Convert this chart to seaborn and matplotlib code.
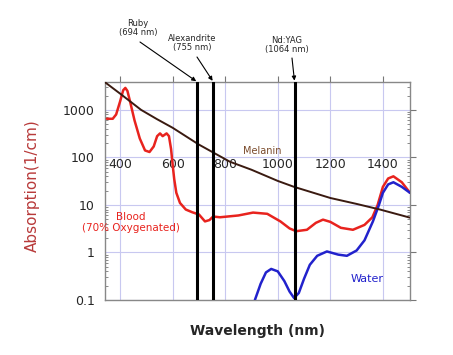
import numpy as np
import pandas as pd
import matplotlib
matplotlib.use("Agg")
import matplotlib.pyplot as plt
import matplotlib.ticker as mticker
import seaborn as sns

# curve data (wavelength in nm, absorption in 1/cm)
melanin_nm = [343, 400, 480, 540, 600, 700, 818, 900, 1000, 1062, 1200, 1300, 1389, 1503]
melanin_abs = [3800, 2200, 1000, 640, 420, 186, 81, 55, 32, 24, 14, 10.5, 8, 5.4]

blood_nm = [350, 372, 385, 400, 412, 420, 428, 438, 455, 475, 495, 512, 528, 541,
            552, 562, 577, 586, 594, 600, 606, 614, 628, 650, 675, 700, 723, 740,
            754, 780, 850, 906, 960, 1010, 1045, 1070, 1111, 1145, 1172, 1200,
            1240, 1286, 1330, 1360, 1380, 1400, 1420, 1440, 1472, 1503]
blood_abs = [650, 650, 800, 1500, 2600, 2900, 2500, 1500, 600, 250, 140, 130, 170, 280,
             320, 280, 320, 280, 150, 70, 35, 18, 11, 8.0, 7.0, 6.3, 4.5, 4.8,
             5.7, 5.5, 6.0, 6.9, 6.5, 4.5, 3.2, 2.8, 3.0, 4.2, 4.9, 4.4,
             3.3, 3.0, 3.8, 5.5, 10, 24, 36, 40, 30, 18]

water_nm = [913, 935, 955, 975, 1000, 1025, 1045, 1062, 1080, 1100, 1122, 1150,
            1187, 1230, 1263, 1300, 1330, 1362, 1385, 1400, 1420, 1440, 1472, 1503]
water_abs = [0.1, 0.22, 0.38, 0.45, 0.4, 0.25, 0.15, 0.11, 0.14, 0.28, 0.55, 0.85,
             1.05, 0.9, 0.85, 1.1, 1.8, 4.5, 10, 18, 27, 30, 24, 18]

laser_names = ["Ruby\n(694 nm)", "Alexandrite\n(755 nm)", "Nd:YAG\n(1064 nm)"]
laser_nm = [694, 755, 1064]

x_ticks = [400, 600, 800, 1000, 1200, 1400]
y_ticks = [0.1, 1, 10, 100, 1000]
y_labels = ["0.1", "1", "10", "100", "1000"]

sns.set_style("white")
plt.rcParams['font.family'] = ['DejaVu Sans']

fig = plt.figure(figsize=(4.53, 3.55), dpi=100)
ax = fig.add_axes([0.232, 0.155, 0.673, 0.614])

df_mel = pd.DataFrame({"nm": melanin_nm, "abs": melanin_abs})
df_blood = pd.DataFrame({"nm": blood_nm, "abs": blood_abs})
df_water = pd.DataFrame({"nm": water_nm, "abs": water_abs})

sns.lineplot(data=df_blood, x="nm", y="abs", ax=ax, color="#e8231e", linewidth=1.8, zorder=3)
sns.lineplot(data=df_water, x="nm", y="abs", ax=ax, color="#2222cc", linewidth=1.8, zorder=3)
sns.lineplot(data=df_mel, x="nm", y="abs", ax=ax, color="#3a1a10", linewidth=1.4, zorder=4)

ax.set_yscale("log")
ax.set_xlim(343, 1503)
ax.set_ylim(0.1, 3860)

ax.set_yticks(y_ticks)
ax.set_yticklabels(y_labels, fontsize=9)
ax.yaxis.set_minor_locator(mticker.LogLocator(base=10, subs=np.arange(2, 10)))
ax.yaxis.set_minor_formatter(mticker.NullFormatter())
ax.set_xticks(x_ticks)
ax.set_xticklabels([])
ax.tick_params(axis="both", which="major", direction="out", length=4, color="#777777",
               top=True, right=True)
ax.tick_params(axis="y", which="minor", direction="in", length=2, color="#777777",
               left=True, right=True)
ax.grid(True, which="major", color="#c8c8f0", linewidth=0.8)
for s in ax.spines.values():
    s.set_color("#888888")
    s.set_linewidth(1.0)

# wavelength labels drawn inside the plot
for t in x_ticks:
    ax.text(t, 70, str(t), ha="center", va="center", fontsize=9, zorder=2)

# laser lines
for nm in laser_nm:
    ax.axvline(nm, color="black", linewidth=2.2, zorder=5)

text_pos = [(138, 327), (192, 312), (287, 310)]
arrow_start = [(140, 313), (197, 298), (292, 297)]
for name, nm, tp, st in zip(laser_names, laser_nm, text_pos, arrow_start):
    fig.text(tp[0] / 453, tp[1] / 355, name, ha="center", va="center", fontsize=6,
             linespacing=1.0)
    ax.annotate("", xy=(nm, 1.0), xycoords=("data", "axes fraction"),
                xytext=(st[0] / 453, st[1] / 355), textcoords="figure fraction",
                arrowprops=dict(arrowstyle="-|>", color="black", lw=0.8,
                                mutation_scale=6, shrinkA=0, shrinkB=1))

ax.text(940, 135, "Melanin", color="#7a4a2a", fontsize=7, ha="center", va="center")
ax.text(440, 4.3, "Blood\n(70% Oxygenated)", color="#e8231e", fontsize=7.5,
        ha="center", va="center", linespacing=1.1)
ax.text(1340, 0.28, "Water", color="#2222cc", fontsize=8, ha="center", va="center")

ax.set_xlabel("Wavelength (nm)", fontsize=10, fontweight="bold", labelpad=10)
ax.set_ylabel("Absorption(1/cm)", fontsize=11, color="#b83a3a")
ax.yaxis.set_label_coords(-0.213, 0.523)

plt.savefig("out.png", dpi=100)
